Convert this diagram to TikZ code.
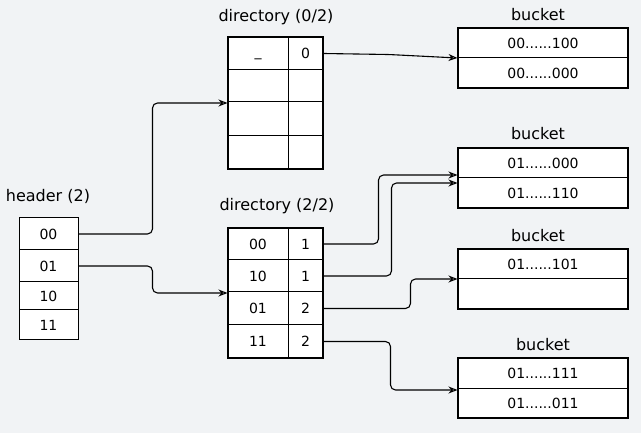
\documentclass[tikz,border=0pt]{standalone}
\usepackage{fontspec}
\setmainfont{DejaVu Sans}
\usetikzlibrary{arrows.meta}
\definecolor{bg}{HTML}{F1F3F5}
\begin{document}
\begin{tikzpicture}[x=1pt,y=-1pt,
 cell/.style={draw=black, fill=white, line width=1pt, inner sep=0pt, font=\fontsize{14}{16}\selectfont},
 frame/.style={draw=black, line width=1.1pt, inner sep=0pt},
 lbl/.style={font=\fontsize{16}{18}\selectfont, inner sep=0pt},
 conn/.style={draw=black, line width=1.1pt, rounded corners=5pt, -{Stealth[open,length=9pt,width=7pt]}}]
\fill[bg] (0,0) rectangle (641,433);
\useasboundingbox (0,0) rectangle (641,433);

% header
\node[lbl] (hl) at (48,196) {header (2)};
\node[cell, minimum width=59pt, minimum height=32pt] (h0) at (48.5,234) {00};
\node[cell, minimum width=59pt, minimum height=32pt] (h1) at (48.5,266) {01};
\node[cell, minimum width=59pt, minimum height=28pt] (h2) at (48.5,296) {10};
\node[cell, minimum width=59pt, minimum height=30pt] (h3) at (48.5,325) {11};

% directory (0/2)
\node[lbl] (d0l) at (276,17) {directory (0/2)};
\node[cell, minimum width=60pt, minimum height=33pt] (d0r0a) at (258,53.5) {\strut\char"005F};
\node[cell, minimum width=35pt, minimum height=33pt] (d0r0b) at (305.5,53.5) {0};
\node[cell, minimum width=60pt, minimum height=32pt] (d0r1a) at (258,86) {};
\node[cell, minimum width=35pt, minimum height=32pt] (d0r1b) at (305.5,86) {};
\node[cell, minimum width=60pt, minimum height=34pt] (d0r2a) at (258,119) {};
\node[cell, minimum width=35pt, minimum height=34pt] (d0r2b) at (305.5,119) {};
\node[cell, minimum width=60pt, minimum height=33pt] (d0r3a) at (258,152.5) {};
\node[cell, minimum width=35pt, minimum height=33pt] (d0r3b) at (305.5,152.5) {};
\node[frame, minimum width=95pt, minimum height=132pt] (dir0) at (275.5,103) {};

% directory (2/2)
\node[lbl] (d2l) at (277,206) {directory (2/2)};
\node[cell, minimum width=60pt, minimum height=32pt] (d2r0a) at (258,244) {00};
\node[cell, minimum width=35pt, minimum height=32pt] (d2r0b) at (305.5,244) {1};
\node[cell, minimum width=60pt, minimum height=32pt] (d2r1a) at (258,276) {10};
\node[cell, minimum width=35pt, minimum height=32pt] (d2r1b) at (305.5,276) {1};
\node[cell, minimum width=60pt, minimum height=33pt] (d2r2a) at (258,308.5) {01};
\node[cell, minimum width=35pt, minimum height=33pt] (d2r2b) at (305.5,308.5) {2};
\node[cell, minimum width=60pt, minimum height=33pt] (d2r3a) at (258,341.5) {11};
\node[cell, minimum width=35pt, minimum height=33pt] (d2r3b) at (305.5,341.5) {2};
\node[frame, minimum width=95pt, minimum height=130pt] (dir2) at (275.5,293) {};

% buckets
\node[lbl] (b1l) at (538,15) {bucket};
\node[cell, minimum width=170pt, minimum height=30pt] (b1a) at (543,43) {00......100};
\node[cell, minimum width=170pt, minimum height=30pt] (b1b) at (543,73) {00......000};
\node[frame, minimum width=170pt, minimum height=60pt] (b1) at (543,58) {};

\node[lbl] (b2l) at (538,134) {bucket};
\node[cell, minimum width=170pt, minimum height=30pt] (b2a) at (543,163) {01......000};
\node[cell, minimum width=170pt, minimum height=30pt] (b2b) at (543,193) {01......110};
\node[frame, minimum width=170pt, minimum height=60pt] (b2) at (543,178) {};

\node[lbl] (b3l) at (538,236) {bucket};
\node[cell, minimum width=170pt, minimum height=30pt] (b3a) at (543,264) {01......101};
\node[cell, minimum width=170pt, minimum height=30pt] (b3b) at (543,294) {};
\node[frame, minimum width=170pt, minimum height=60pt] (b3) at (543,279) {};

\node[lbl] (b4l) at (543,345) {bucket};
\node[cell, minimum width=170pt, minimum height=30pt] (b4a) at (543,373) {01......111};
\node[cell, minimum width=170pt, minimum height=30pt] (b4b) at (543,403) {01......011};
\node[frame, minimum width=170pt, minimum height=60pt] (b4) at (543,388) {};

% connectors
\draw[conn] (h0.east) -- ++(74,0) |- (dir0.west);
\draw[conn] (h1.east) -- ++(74,0) |- (dir2.west);
\draw[conn] (d0r0b.east) -- ++(65,1) -- (b1.west);
\draw[conn] (d2r0b.east) -- ++(55,0) |- ([yshift=3pt]b2.west);
\draw[conn] (d2r1b.east) -- ++(68,0) |- ([yshift=-5pt]b2.west);
\draw[conn] (d2r2b.east) -- ++(87,0) |- (b3.west);
\draw[conn] (d2r3b.east) -- ++(67,0) |- ([yshift=-2pt]b4.west);
\end{tikzpicture}
\end{document}
